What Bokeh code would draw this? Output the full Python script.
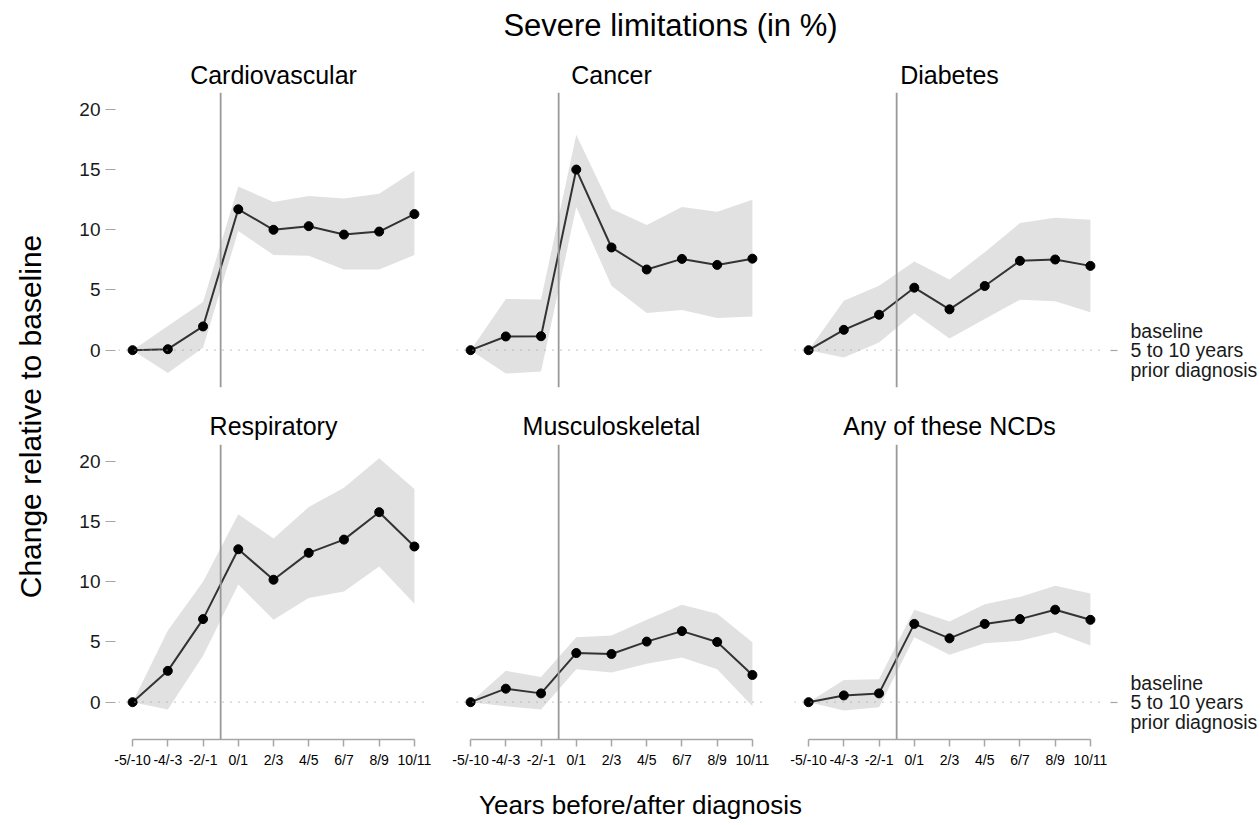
from bokeh.plotting import figure
from bokeh.models import Range1d, LinearAxis, FixedTicker, Span, ColumnDataSource
from bokeh.layouts import column, row
from bokeh.core.properties import value
from bokeh.embed import file_html
from bokeh.resources import INLINE

# ---------------- data ----------------
periods = ["-5/-10", "-4/-3", "-2/-1", "0/1", "2/3", "4/5", "6/7", "8/9", "10/11"]
diseases = ["Cardiovascular", "Cancer", "Diabetes",
            "Respiratory", "Musculoskeletal", "Any of these NCDs"]

cardio_est = [0, 0.08, 1.97, 11.7, 10.0, 10.3, 9.6, 9.85, 11.3]
cardio_lo = [0, -1.9, 0.2, 9.9, 7.9, 7.85, 6.7, 6.7, 7.9]
cardio_hi = [0, 2.0, 4.0, 13.6, 12.3, 12.8, 12.6, 13.0, 14.9]

cancer_est = [0, 1.14, 1.16, 15.0, 8.53, 6.7, 7.58, 7.08, 7.6]
cancer_lo = [0, -1.94, -1.78, 11.9, 5.36, 3.08, 3.33, 2.67, 2.8]
cancer_hi = [0, 4.25, 4.2, 17.9, 11.75, 10.4, 11.9, 11.5, 12.5]

diab_est = [0, 1.69, 2.94, 5.19, 3.39, 5.33, 7.42, 7.53, 7.0]
diab_lo = [0, -0.61, 0.64, 3.06, 0.97, 2.58, 4.19, 4.06, 3.14]
diab_hi = [0, 4.1, 5.36, 7.36, 5.86, 8.14, 10.56, 11.0, 10.83]

resp_est = [0, 2.6, 6.9, 12.7, 10.17, 12.4, 13.5, 15.78, 12.93]
resp_lo = [0, -0.6, 3.85, 9.78, 6.84, 8.66, 9.2, 11.26, 8.18]
resp_hi = [0, 5.95, 10.0, 15.6, 13.6, 16.2, 17.8, 20.25, 17.7]

musc_est = [0, 1.12, 0.73, 4.08, 4.0, 5.03, 5.9, 5.0, 2.26]
musc_lo = [0, -0.34, -0.61, 2.74, 2.46, 3.2, 3.7, 2.74, -0.34]
musc_hi = [0, 2.6, 2.1, 5.4, 5.53, 6.84, 8.1, 7.35, 4.97]

any_est = [0, 0.56, 0.73, 6.5, 5.3, 6.5, 6.9, 7.68, 6.84]
any_lo = [0, -0.7, -0.42, 5.39, 3.94, 4.9, 5.1, 5.8, 4.7]
any_hi = [0, 1.84, 1.9, 7.68, 6.7, 8.13, 8.74, 9.66, 9.02]

y_ticks = [0, 5, 10, 15, 20]
baseline_label = "baseline\n5 to 10 years\nprior diagnosis"
main_title = "Severe limitations (in %)"
y_title = "Change relative to baseline"
x_title = "Years before/after diagnosis"

series = [
    (cardio_est, cardio_lo, cardio_hi),
    (cancer_est, cancer_lo, cancer_hi),
    (diab_est, diab_lo, diab_hi),
    (resp_est, resp_lo, resp_hi),
    (musc_est, musc_lo, musc_hi),
    (any_est, any_lo, any_hi),
]

FONT = "Liberation Sans"
xs = list(range(len(periods)))
diag_x = (periods.index("-2/-1") + periods.index("0/1")) / 2.0

# ---------------- layout geometry ----------------
FRAME_W = 310
widths = [(58, 14), (14, 14), (14, 156)]
row_borders = [(40, 17), (40, 40)]
FRAME_H = 295
TICK_GREY = "#a6a6a6"


def make_panel(i):
    r, c = divmod(i, 3)
    left, right = widths[c]
    top, bottom = row_borders[r]
    est, lo, hi = series[i]
    p = figure(width=left + FRAME_W + right, height=top + FRAME_H + bottom,
               x_range=Range1d(-0.4, 8.4), y_range=Range1d(-3.1, 21.4),
               x_axis_location=None, y_axis_location=None,
               toolbar_location=None, output_backend="svg",
               min_border_left=left, min_border_right=right,
               min_border_top=top, min_border_bottom=bottom,
               title=diseases[i])
    p.title.align = "center"
    p.title.text_font = FONT
    p.title.text_font_size = "25px"
    p.title.text_font_style = "normal"
    p.title.text_color = "#000000"
    p.title.standoff = 7 if r == 0 else 9
    p.outline_line_color = None
    p.xgrid.visible = False
    p.ygrid.visible = False
    p.background_fill_color = "white"
    p.border_fill_color = "white"

    src = ColumnDataSource(dict(x=xs, est=est, lo=lo, hi=hi))
    p.varea(x="x", y1="lo", y2="hi", source=src, fill_color="#e1e1e1")
    p.add_layout(Span(location=0, dimension="width", line_color="#a0a0a0",
                      line_width=1.2, line_dash="1 7"))
    p.add_layout(Span(location=diag_x, dimension="height", line_color="#9a9a9a",
                      line_width=1.8))
    p.line(x="x", y="est", source=src, line_color="#333333", line_width=2)
    p.scatter(x="x", y="est", source=src, size=9, fill_color="black",
              line_color="black")

    if c == 0:
        ax = LinearAxis(ticker=FixedTicker(ticks=y_ticks))
        ax.axis_line_color = None
        ax.major_tick_line_color = TICK_GREY
        ax.major_tick_line_width = 1.2
        ax.major_tick_in = -3
        ax.major_tick_out = 13
        ax.minor_tick_line_color = None
        ax.major_label_text_font = FONT
        ax.major_label_text_font_size = "19px"
        ax.major_label_text_color = "#1a1a1a"
        ax.major_label_standoff = 5
        p.add_layout(ax, "left")
    if c == 2:
        ax = LinearAxis(ticker=FixedTicker(ticks=[0]),
                        major_label_overrides={0: baseline_label})
        ax.axis_line_color = None
        ax.major_tick_line_color = TICK_GREY
        ax.major_tick_line_width = 1.2
        ax.major_tick_in = -6
        ax.major_tick_out = 13
        ax.minor_tick_line_color = None
        ax.major_label_text_font = FONT
        ax.major_label_text_font_size = "19.5px"
        ax.major_label_text_line_height = 0.88
        ax.major_label_text_color = "#1a1a1a"
        ax.major_label_standoff = 13
        p.add_layout(ax, "right")
    if r == 1:
        ax = LinearAxis(ticker=FixedTicker(ticks=xs),
                        major_label_overrides={k: lab for k, lab in zip(xs, periods)})
        ax.bounds = (xs[0], xs[-1])
        ax.axis_line_color = TICK_GREY
        ax.axis_line_width = 1.5
        ax.major_tick_line_color = TICK_GREY
        ax.major_tick_line_width = 1.5
        ax.major_tick_in = 0
        ax.major_tick_out = 7
        ax.minor_tick_line_color = None
        ax.major_label_text_font = FONT
        ax.major_label_text_font_size = "14px"
        ax.major_label_text_color = "#000000"
        ax.major_label_standoff = 5
        p.add_layout(ax, "below")
    return p


def text_fig(w, h, txt, fx, fy, size, angle=0.0):
    f = figure(width=w, height=h, x_range=Range1d(0, 1), y_range=Range1d(0, 1),
               x_axis_location=None, y_axis_location=None,
               toolbar_location=None, output_backend="svg",
               min_border=0, min_border_left=0, min_border_right=0,
               min_border_top=0, min_border_bottom=0)
    f.outline_line_color = None
    f.xgrid.visible = False
    f.ygrid.visible = False
    f.text(x=[fx], y=[fy], text=[txt], angle=angle,
           text_font=value(FONT), text_font_size=size,
           text_align="center", text_baseline="middle", text_color="#000000")
    return f


panels = [make_panel(i) for i in range(6)]

header = text_fig(1260, 52, main_title, 670 / 1260, 0.52, "31px")
ylab = text_fig(60, 728, y_title, 0.5, 0.5, "30px", angle=1.5707963)
footer = text_fig(1260, 45, x_title, 640 / 1260, 0.45, "26px")

grid = column(row(*panels[:3]), row(*panels[3:]))
layout = column(header, row(ylab, grid), footer)

open("out.html", "w").write(file_html(layout, INLINE))
